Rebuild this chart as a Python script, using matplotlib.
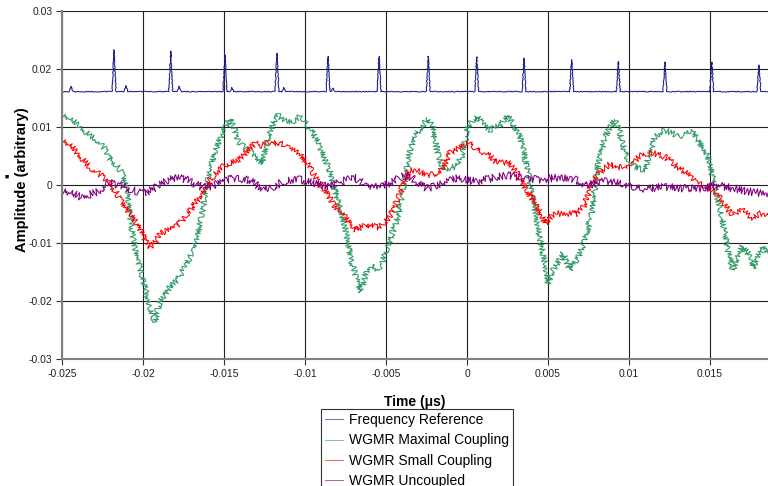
import matplotlib
matplotlib.use('Agg')
import matplotlib.pyplot as plt
from matplotlib.ticker import FuncFormatter

plt.rcParams['font.family'] = ['Liberation Sans', 'DejaVu Sans']
plt.rcParams['axes.unicode_minus'] = False

# frequency reference: flat baseline with sharp resonance peaks
ref_base = 0.0161
ref_peak_t = [-0.02179, -0.01829, -0.01494, -0.01173, -0.00858, -0.00543, -0.00239,
              0.0006, 0.00352, 0.00646, 0.00934, 0.01222, 0.01511, 0.01802]
ref_peak_h = [0.0233, 0.0231, 0.0224, 0.0227, 0.0222, 0.0222, 0.0222,
              0.0221, 0.0219, 0.0216, 0.0213, 0.0212, 0.0212, 0.0207]
ref_side_t = [-0.02444, -0.02105, -0.01778, -0.01451, -0.0113, -0.00827]
ref_side_h = [0.0170, 0.0171, 0.0170, 0.0168, 0.0168, 0.0167]

# sample times (us) shared by the three WGMR traces
time_us = [
    -0.025, -0.02451, -0.02389, -0.02327, -0.02284, -0.02235, -0.02204, -0.02167, -0.0213, -0.02099,
    -0.02068, -0.02037, -0.02012, -0.01981, -0.01957, -0.01926, -0.01895, -0.01864, -0.01833, -0.0179,
    -0.01759, -0.01728, -0.01698, -0.01667, -0.01636, -0.01605, -0.01574, -0.01543, -0.01512, -0.01481,
    -0.01463, -0.01438, -0.01414, -0.01383, -0.01352, -0.01309, -0.01265, -0.01228, -0.01198, -0.01167,
    -0.01123, -0.0108, -0.01031, -0.00981, -0.00951, -0.0092, -0.00889, -0.00858, -0.00815, -0.00784,
    -0.00753, -0.00716, -0.00685, -0.00654, -0.00623, -0.00593, -0.00549, -0.00519, -0.00488, -0.00457,
    -0.00426, -0.00401, -0.00383, -0.00352, -0.00309, -0.00278, -0.00247, -0.00216, -0.00185, -0.00148,
    -0.00105, -0.00062, -0.00025, 0.00006, 0.00037, 0.00062, 0.00099, 0.00142, 0.00173, 0.00204,
    0.00247, 0.00284, 0.00327, 0.0037, 0.00407, 0.00451, 0.00481, 0.005, 0.00525, 0.00556,
    0.00593, 0.00636, 0.00679, 0.00716, 0.00728, 0.00759, 0.00772, 0.00809, 0.00852, 0.00883,
    0.00914, 0.00932, 0.00975, 0.01006, 0.01037, 0.01068, 0.01099, 0.0113, 0.0116, 0.01191,
    0.01222, 0.01265, 0.01302, 0.01346, 0.01389, 0.0142, 0.01451, 0.01488, 0.01531, 0.01574,
    0.01611, 0.01642, 0.01667, 0.01698, 0.01735, 0.01765, 0.01796, 0.01821, 0.01852, 0.0187]

maximal = [
    0.0122, 0.0115, 0.0101, 0.0085, 0.0078, 0.0062, 0.0045, 0.0035, 0.0022, -0.0010,
    -0.0080, -0.0125, -0.0150, -0.0185, -0.0210, -0.0236, -0.0200, -0.0190, -0.0175, -0.0164,
    -0.0150, -0.0135, -0.0115, -0.0095, -0.0050, 0.0003, 0.0040, 0.0066, 0.0090, 0.0105,
    0.0115, 0.0100, 0.0075, 0.0068, 0.0060, 0.0052, 0.0037, 0.0083, 0.0105, 0.0120,
    0.0112, 0.0109, 0.0118, 0.0101, 0.0090, 0.0072, 0.0052, 0.0032, -0.0009, -0.0040,
    -0.0072, -0.0129, -0.0160, -0.0184, -0.0150, -0.0140, -0.0147, -0.0130, -0.0106, -0.0080,
    -0.0055, -0.0020, 0.0009, 0.0060, 0.0089, 0.0100, 0.0115, 0.0103, 0.0060, 0.0026,
    0.0030, 0.0032, 0.0055, 0.0101, 0.0112, 0.0118, 0.0105, 0.0095, 0.0100, 0.0101,
    0.0121, 0.0106, 0.0083, 0.0032, -0.0026, -0.0095, -0.0135, -0.0170, -0.0150, -0.0135,
    -0.0118, -0.0147, -0.0129, -0.0106, -0.0095, -0.0060, -0.0043, 0.0037, 0.0083, 0.0100,
    0.0112, 0.0101, 0.0055, 0.0040, 0.0032, 0.0028, 0.0026, 0.0055, 0.0083, 0.0090,
    0.0095, 0.0090, 0.0083, 0.0088, 0.0092, 0.0080, 0.0066, 0.0049, -0.0003, -0.0055,
    -0.0112, -0.0147, -0.0125, -0.0106, -0.0118, -0.0144, -0.0120, -0.0106, -0.0118, -0.0115]

small = [
    0.0078, 0.0070, 0.0050, 0.0030, 0.0022, 0.0011, 0.0002, -0.0012, -0.0030, -0.0043,
    -0.0055, -0.0067, -0.0080, -0.0098, -0.0107, -0.0100, -0.0083, -0.0080, -0.0075, -0.0070,
    -0.0062, -0.0050, -0.0040, -0.0027, -0.0015, 0.0003, 0.0013, 0.0023, 0.0030, 0.0037,
    0.0038, 0.0040, 0.0042, 0.0050, 0.0060, 0.0072, 0.0068, 0.0072, 0.0070, 0.0074,
    0.0069, 0.0063, 0.0052, 0.0035, 0.0020, 0.0008, -0.0005, -0.0018, -0.0037, -0.0046,
    -0.0055, -0.0068, -0.0078, -0.0072, -0.0068, -0.0070, -0.0073, -0.0068, -0.0058, -0.0045,
    -0.0022, -0.0005, 0.0009, 0.0025, 0.0025, 0.0021, 0.0018, 0.0018, 0.0021, 0.0030,
    0.0055, 0.0063, 0.0070, 0.0074, 0.0065, 0.0060, 0.0057, 0.0050, 0.0040, 0.0038,
    0.0040, 0.0031, 0.0012, -0.0010, -0.0025, -0.0048, -0.0066, -0.0060, -0.0052, -0.0049,
    -0.0050, -0.0049, -0.0049, -0.0038, -0.0030, -0.0012, 0.0003, 0.0018, 0.0030, 0.0036,
    0.0032, 0.0030, 0.0031, 0.0037, 0.0042, 0.0050, 0.0053, 0.0055, 0.0054, 0.0052,
    0.0048, 0.0040, 0.0030, 0.0022, 0.0012, 0.0005, 0.0000, -0.0004, -0.0012, -0.0027,
    -0.0042, -0.0052, -0.0047, -0.0043, -0.0052, -0.0057, -0.0050, -0.0049, -0.0052, -0.0052]

uncoupled = [
    -0.0009, -0.0012, -0.0020, -0.0016, -0.0012, 0.0000, 0.0003, 0.0001, 0.0000, -0.0005,
    -0.0009, -0.0011, -0.0013, -0.0014, -0.0010, -0.0005, 0.0000, 0.0005, 0.0010, 0.0012,
    0.0011, 0.0009, 0.0004, 0.0000, -0.0003, -0.0003, -0.0002, 0.0003, 0.0007, 0.0009,
    0.0010, 0.0012, 0.0011, 0.0010, 0.0009, 0.0002, -0.0006, -0.0005, -0.0003, 0.0001,
    0.0007, 0.0009, 0.0009, 0.0006, 0.0003, 0.0001, -0.0001, -0.0003, 0.0001, 0.0005,
    0.0008, 0.0011, 0.0012, 0.0006, 0.0000, -0.0003, -0.0003, -0.0002, 0.0002, 0.0005,
    0.0010, 0.0014, 0.0016, 0.0015, 0.0005, -0.0002, -0.0006, -0.0003, 0.0000, 0.0003,
    0.0008, 0.0012, 0.0010, 0.0008, 0.0007, 0.0006, 0.0009, 0.0011, 0.0013, 0.0015,
    0.0017, 0.0015, 0.0013, 0.0011, 0.0010, 0.0009, 0.0010, 0.0011, 0.0012, 0.0012,
    0.0012, 0.0012, 0.0008, 0.0003, 0.0001, 0.0000, 0.0002, 0.0005, 0.0006, 0.0006,
    0.0006, 0.0006, 0.0001, -0.0003, -0.0006, -0.0006, -0.0006, -0.0006, -0.0005, -0.0004,
    -0.0003, -0.0004, -0.0005, -0.0006, -0.0006, -0.0006, -0.0006, -0.0004, -0.0001, -0.0002,
    -0.0004, -0.0006, -0.0007, -0.0009, -0.0011, -0.0012, -0.0013, -0.0014, -0.0014, -0.0014]

labels = ['Frequency Reference', 'WGMR Maximal Coupling', 'WGMR Small Coupling', 'WGMR Uncoupled']
colors = ['#1c1c8a', '#2e9a66', '#ff0000', '#800080']
wiggle = [0.4, 3.0, 3.0, 3.8]

# build the reference trace from its peak list
events = sorted(list(zip(ref_peak_t, ref_peak_h)) + list(zip(ref_side_t, ref_side_h)))
ref_t = [-0.025]
ref_v = [ref_base]
for t, h in events:
    ref_t += [t - 0.00012, t, t + 0.00012]
    ref_v += [ref_base, h, ref_base]
ref_t.append(0.0187)
ref_v.append(ref_base)

fig = plt.figure(figsize=(7.68, 4.86), dpi=100)
ax = fig.add_axes([62/768, 1 - 359/486, 706/768, 348/486])

lines = []
series = [(ref_t, ref_v), (time_us, maximal), (time_us, small), (time_us, uncoupled)]
for (xs, ys), c, w in zip(series, colors, wiggle):
    l, = ax.plot(xs, ys, color=c, lw=0.75)
    l.set_sketch_params(scale=w, length=1.6, randomness=4)
    lines.append(l)

ax.set_xlim(-0.025, 0.01858)
ax.set_ylim(-0.03, 0.03)
ax.set_xticks([-0.025, -0.02, -0.015, -0.01, -0.005, 0, 0.005, 0.01, 0.015])
ax.set_yticks([-0.03, -0.02, -0.01, 0, 0.01, 0.02, 0.03])
fmt = FuncFormatter(lambda v, p: '%g' % round(v, 4))
ax.xaxis.set_major_formatter(fmt)
ax.yaxis.set_major_formatter(fmt)
ax.grid(True, color='#202020', lw=0.8)
ax.set_axisbelow(True)
for s in ['top', 'right']:
    ax.spines[s].set_visible(False)
for s in ['left', 'bottom']:
    ax.spines[s].set_color('#808080')
    ax.spines[s].set_linewidth(1.5)
ax.tick_params(direction='out', length=4, width=0.8, colors='#333333', labelsize=7.5, pad=3)
ax.tick_params(labelcolor='#222222')

ax.set_xlabel('Time (μs)', fontsize=10, fontweight='bold')
ax.xaxis.set_label_coords(0.5, -(395 - 359) / 348)
ax.set_ylabel('Amplitude (arbitrary)', fontsize=10.5, fontweight='bold')
ax.yaxis.set_label_coords(-33 / 706, 0.515)
fig.text(7/768, 1 - 177/486, '■', fontsize=5, ha='center', va='center')

leg = fig.legend(lines, labels, loc='upper left', bbox_to_anchor=(321/768, 1 - 409/486),
                 fontsize=10, frameon=True, fancybox=False, handlelength=1.3,
                 handletextpad=0.4, labelspacing=0.45, borderpad=0.3, borderaxespad=0)
leg.get_frame().set_edgecolor('black')
leg.get_frame().set_linewidth(0.8)
for h in leg.get_lines():
    h.set_alpha(0.6)
    h.set_sketch_params(None)

fig.savefig('out.png', dpi=100)
